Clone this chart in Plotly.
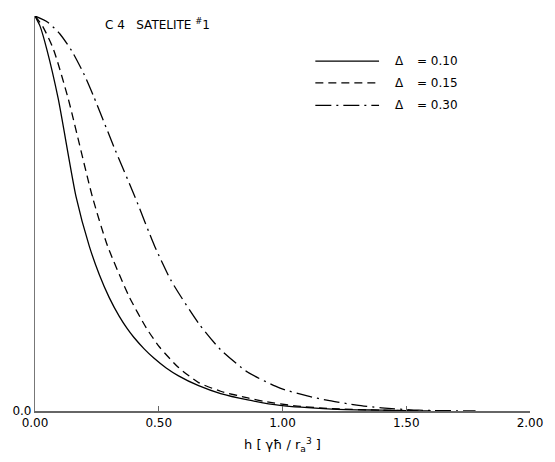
import plotly.graph_objects as go

# Data
x_010 = [0, 0.02, 0.048, 0.094, 0.166, 0.219, 0.26, 0.30, 0.34, 0.372, 0.40, 0.44, 0.48, 0.53, 0.58, 0.661, 0.75, 0.86, 0.99, 1.2, 1.4, 1.55]
y_010 = [1.0, 0.975, 0.915, 0.79, 0.542, 0.418, 0.345, 0.287, 0.24, 0.209, 0.186, 0.158, 0.134, 0.109, 0.089, 0.064, 0.044, 0.028, 0.014, 0.005, 0.002, 0.0]

x_015 = [0, 0.03, 0.075, 0.134, 0.232, 0.293, 0.38, 0.45, 0.503, 0.58, 0.661, 0.75, 0.86, 0.93, 1.05, 1.2, 1.4, 1.6]
y_015 = [1.0, 0.975, 0.915, 0.791, 0.542, 0.418, 0.29, 0.21, 0.162, 0.11, 0.072, 0.05, 0.033, 0.024, 0.013, 0.006, 0.002, 0.0]

x_030 = [0, 0.05, 0.1, 0.15, 0.2, 0.238, 0.32, 0.404, 0.483, 0.55, 0.661, 0.75, 0.86, 0.99, 1.1, 1.19, 1.3, 1.4, 1.55, 1.78]
y_030 = [1.0, 0.985, 0.955, 0.91, 0.85, 0.795, 0.667, 0.542, 0.418, 0.33, 0.222, 0.155, 0.098, 0.058, 0.038, 0.026, 0.015, 0.008, 0.002, 0.0]

series_labels = ["= 0.10", "= 0.15", "= 0.30"]
x_tickvals = [0, 0.5, 1.0, 1.5, 2.0]
x_ticktext = ["0.00", "0.50", "1.00", "1.50", "2.00"]

FONT = "DejaVu Sans"
dashes = ["solid", "8px,5px", "16px,5px,2px,5px"]

fig = go.Figure()
for xs, ys, d in [(x_010, y_010, dashes[0]), (x_015, y_015, dashes[1]), (x_030, y_030, dashes[2])]:
    fig.add_trace(go.Scatter(x=xs, y=ys, mode="lines",
                             line=dict(color="black", width=1.3, dash=d, shape="spline", smoothing=0.6),
                             showlegend=False, cliponaxis=False))

# Legend drawn manually
W, H = 505.0, 402.0
def px(xp): return (xp - 33) / W
def py(yp): return (418 - yp) / H
rows = [62, 84, 107]
for i, r in enumerate(rows):
    fig.add_shape(type="line", xref="paper", yref="paper",
                  x0=px(319), x1=px(384), y0=py(r), y1=py(r),
                  line=dict(color="black", width=1.2, dash=dashes[i]))
    fig.add_annotation(xref="paper", yref="paper", x=px(405), y=py(r), text="Δ",
                       showarrow=False, font=dict(family=FONT, size=12, color="black"),
                       xanchor="center", yanchor="middle")
    fig.add_annotation(xref="paper", yref="paper", x=px(421), y=py(r), text=series_labels[i],
                       showarrow=False, font=dict(family=FONT, size=12, color="black"),
                       xanchor="left", yanchor="middle")

fig.add_annotation(xref="paper", yref="paper", x=px(102), y=py(24),
                   text="C 4   SATELITE <sup>#</sup>1", showarrow=False,
                   font=dict(family=FONT, size=12, color="black"),
                   xanchor="left", yanchor="middle")

fig.update_layout(
    width=555, height=462,
    margin=dict(l=33, r=17, t=16, b=44),
    paper_bgcolor="white", plot_bgcolor="white",
    font=dict(family=FONT, size=12, color="black"),
    xaxis=dict(range=[0, 2], tickvals=x_tickvals, ticktext=x_ticktext,
               showgrid=False, zeroline=False, showline=True, linecolor="#666", linewidth=1.5,
               ticks="inside", ticklen=5, tickcolor="#666",
               title=dict(text="h [ γħ / r<sub>a</sub><sup>3</sup> ]", font=dict(size=13), standoff=11)),
    yaxis=dict(range=[0, 1], tickvals=[0], ticktext=["0.0"], showgrid=False, zeroline=False,
               showline=True, linecolor="#777", linewidth=1.2, ticks=""),
)

fig.write_html("out.html")
